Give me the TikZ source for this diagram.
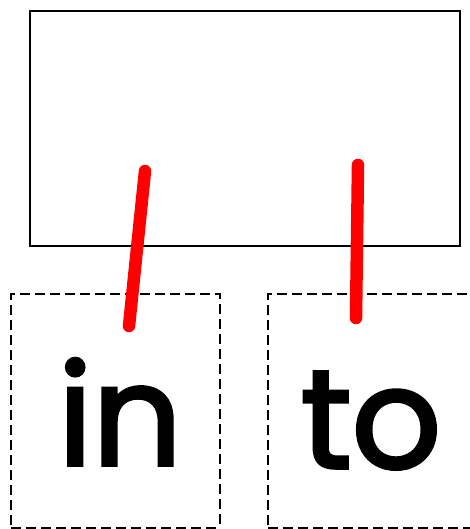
\documentclass[tikz,border=0pt]{standalone}
\usepackage{fontspec}
\setmainfont{Poppins}
\newfontfamily\wordfont{Poppins}[FakeBold=2.5]
\begin{document}
\begin{tikzpicture}[x=1pt,y=-1pt,
  frame/.style={draw=black,line width=2pt},
  cutbox/.style={draw=black,line width=2pt,dash pattern=on 10pt off 5pt},
  redline/.style={draw=red,line width=12.5pt,line cap=round},
  word/.style={font=\wordfont\fontsize{140}{140}\selectfont,anchor=base,inner sep=0pt}]
\useasboundingbox (0,0) rectangle (469,529);
\node[frame,minimum width=430pt,minimum height=235pt,inner sep=0pt,anchor=north west] (top) at (29,10) {};
\draw[cutbox] (11,540) -- (11,294) -- (220,294) -- (220,540);
\draw[cutbox] (11,528) -- (220,528);
\draw[cutbox] (268,540) -- (268,294) -- (480,294);
\draw[cutbox] (268,528) -- (480,528);
\node[word] (in) at (120,465) {in};
\node[word] (to) at (371,468) {to};
\coordinate (a1) at (145,171);
\coordinate (a2) at (129,326);
\coordinate (b1) at (358,165);
\coordinate (b2) at (356,318);
\draw[redline] (a1) -- (a2);
\draw[redline] (b1) -- (b2);
\end{tikzpicture}
\end{document}
